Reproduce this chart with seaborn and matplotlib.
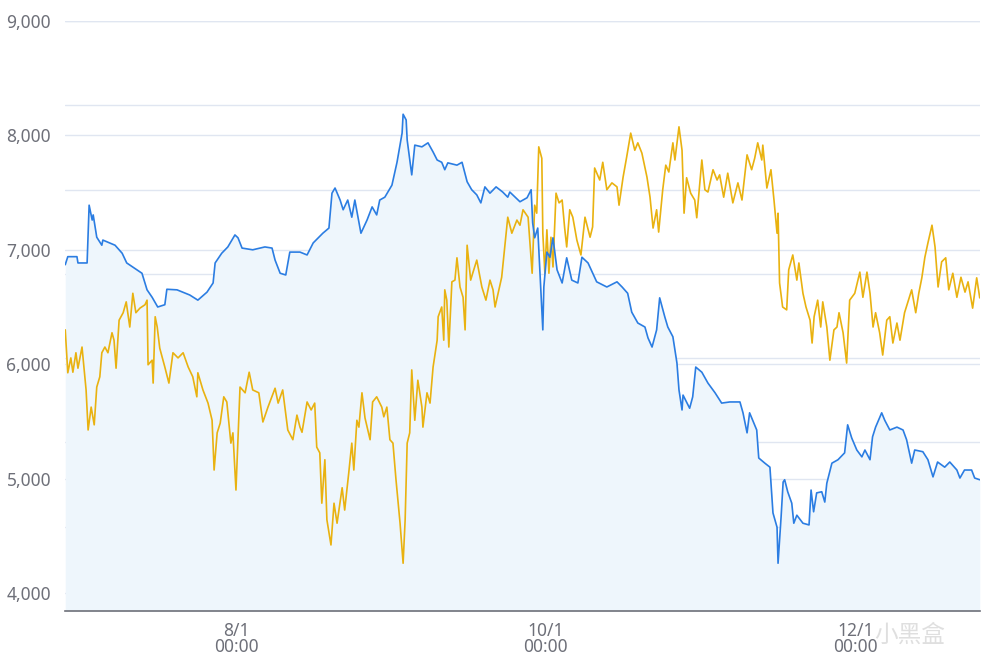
import numpy as np
import pandas as pd
import matplotlib
matplotlib.use("Agg")
import matplotlib.pyplot as plt
import matplotlib.ticker as mticker
import seaborn as sns

# ---- data (days relative to 8/1 00:00, price) ----
start = pd.Timestamp("2023-08-01")

blue_day = [-33.6,-33.1,-31.3,-31.1,-29.3,-28.9,-28.3,-28.1,-27.4,-26.4,
            -26.2,-23.8,-22.4,-21.5,-19.5,-18.5,-17.5,-16.5,-15.4,-14.0,
            -13.6,-11.6,-9.1,-7.5,-5.7,-4.5,-4.1,-2.8,-1.6,-0.2,
            0.4,1.2,3.3,5.7,7.1,7.7,8.7,9.8,10.6,12.6,
            14.0,15.2,17.1,18.3,18.9,19.5,20.5,21.1,22.0,22.8,
            23.4,24.6,25.8,26.8,27.7,28.3,29.3,30.7,31.7,32.7,
            32.9,33.5,33.7,34.6,35.2,36.6,37.8,38.8,39.6,40.5,
            41.1,41.7,43.5,44.5,45.5,46.4,47.4,48.2,49.0,50.0,
            51.2,52.5,53.5,53.9,55.9,57.3,58.1,58.4,58.8,59.4,
            60.0,60.4,60.6,61.2,61.8,62.4,63.2,64.2,65.1,66.1,
            67.3,68.1,69.3,71.0,73.0,75.0,76.0,77.1,77.9,79.1,
            80.5,81.1,81.9,82.8,83.4,84.4,85.0,86.0,86.8,87.2,
            87.8,88.0,89.3,89.9,90.5,91.7,92.9,94.3,95.6,97.2,
            99.2,99.8,100.6,101.1,102.5,102.9,104.1,105.1,105.7,106.5,
            106.7,107.3,107.7,108.0,108.6,109.4,109.8,110.4,111.6,112.8,
            113.2,113.7,114.3,115.3,115.9,116.3,117.3,118.5,119.8,120.4,
            121.2,122.2,123.2,123.8,124.8,125.3,125.9,127.1,127.7,128.7,
            130.1,131.3,132.0,133.0,133.6,135.2,136.2,137.2,138.1,139.5,
            140.5,141.9,142.5,143.4,144.8,145.4,146.4]
blue_val = [6870,6940,6940,6885,6885,7390,7260,7305,7110,7040,
            7085,7040,6970,6885,6825,6795,6650,6585,6500,6520,
            6655,6650,6605,6560,6630,6710,6885,6970,7025,7130,
            7105,7015,7000,7025,7015,6910,6795,6780,6980,6980,
            6955,7060,7145,7190,7495,7540,7435,7350,7435,7285,
            7435,7145,7260,7375,7305,7435,7460,7565,7765,8020,
            8185,8135,7960,7655,7915,7900,7935,7855,7785,7765,
            7700,7760,7740,7765,7595,7525,7480,7410,7550,7495,
            7550,7505,7460,7505,7420,7455,7525,7235,7105,7190,
            6665,6300,6675,6980,6935,7105,6825,6710,6930,6735,
            6710,6935,6885,6720,6675,6720,6675,6620,6455,6360,
            6325,6230,6150,6300,6580,6415,6325,6240,6010,5775,
            5600,5730,5615,5715,5975,5930,5835,5750,5660,5670,
            5670,5575,5400,5575,5425,5180,5135,5100,4700,4575,
            4260,4665,4970,4990,4885,4785,4610,4680,4610,4595,
            4900,4710,4875,4885,4795,4960,5135,5165,5225,5470,
            5355,5250,5190,5250,5165,5365,5450,5575,5510,5425,
            5450,5425,5340,5135,5250,5235,5165,5015,5145,5100,
            5145,5075,5005,5075,5075,5005,4990]

yellow_day = [-33.6,-33.1,-32.5,-32.1,-31.5,-31.1,-30.3,-29.9,-29.5,-29.1,
              -28.5,-27.9,-27.4,-26.8,-26.4,-25.8,-25.2,-24.4,-24.0,-23.6,
              -23.0,-22.2,-21.6,-20.9,-20.3,-19.7,-18.9,-17.9,-17.5,-17.3,
              -16.5,-16.3,-15.9,-15.5,-15.0,-14.0,-13.2,-12.4,-11.4,-10.4,
              -9.4,-8.5,-7.7,-7.5,-6.5,-5.5,-4.7,-4.3,-3.7,-3.1,
              -2.4,-1.8,-1.0,-0.6,0.0,0.8,1.8,2.6,3.3,4.5,
              5.3,6.3,7.7,8.3,9.2,10.2,11.2,12.0,12.6,13.0,
              14.0,14.8,15.5,15.9,16.5,16.9,17.5,17.9,18.7,19.3,
              19.9,20.9,21.4,22.2,22.8,23.2,23.8,24.2,24.8,25.4,
              26.4,26.9,27.7,28.7,29.1,29.7,30.3,30.9,31.5,32.3,
              32.9,33.3,33.7,34.2,34.6,35.2,35.8,36.6,36.8,37.6,
              38.2,38.8,39.6,39.8,40.5,40.9,41.1,41.5,41.9,42.5,
              43.1,43.5,44.1,44.7,45.1,45.5,46.2,46.6,47.4,48.4,
              49.2,50.0,50.6,51.0,51.6,52.3,52.9,53.5,54.3,55.3,
              55.9,56.5,57.5,58.3,58.8,59.2,59.6,60.2,60.4,60.8,
              61.2,61.6,62.0,62.4,63.0,63.6,64.2,64.7,65.1,65.7,
              66.3,67.1,67.9,68.7,69.7,70.2,70.6,71.6,72.2,73.0,
              74.0,75.0,75.4,76.2,76.9,77.7,78.5,79.1,79.9,80.9,
              81.5,82.1,82.8,83.2,84.0,84.6,85.2,86.0,86.4,87.2,
              87.8,88.2,88.7,89.5,90.3,90.7,91.7,92.3,92.9,93.9,
              94.7,95.2,96.0,96.8,97.8,98.8,99.6,100.6,101.5,102.1,
              102.7,103.5,103.7,104.5,105.3,105.9,106.5,106.7,107.0,107.6,
              108.4,108.8,109.6,110.4,110.8,111.6,112.2,113.0,113.4,113.8,
              114.5,115.1,115.5,116.3,116.9,117.7,118.3,118.7,119.5,120.2,
              120.8,121.8,122.8,123.4,124.2,124.8,125.4,125.9,126.7,127.3,
              128.1,128.7,129.3,130.1,130.7,131.6,132.2,133.0,133.8,134.4,
              135.0,135.6,136.2,137.0,137.6,138.2,138.9,139.7,140.3,141.1,
              141.9,142.7,143.5,144.1,145.0,145.8,146.4]
yellow_val = [6300,5925,6055,5930,6100,5965,6150,5965,5775,5425,
              5625,5470,5800,5890,6100,6150,6100,6275,6210,5965,
              6385,6450,6545,6325,6620,6450,6490,6520,6560,5995,
              6035,5835,6415,6325,6140,5975,5835,6100,6055,6100,
              5975,5890,5715,5925,5775,5660,5510,5075,5400,5485,
              5715,5670,5310,5400,4900,5800,5750,5930,5775,5750,
              5495,5625,5790,5660,5775,5425,5340,5555,5450,5405,
              5670,5600,5660,5275,5225,4785,5165,4640,4420,4785,
              4610,4920,4725,5050,5310,5075,5510,5450,5750,5530,
              5340,5670,5715,5625,5540,5625,5340,5310,4990,4610,
              4260,4640,5310,5400,5950,5510,5860,5625,5450,5750,
              5660,5975,6210,6415,6500,6210,6650,6560,6150,6720,
              6735,6930,6675,6585,6300,7040,6735,6795,6910,6675,
              6560,6735,6650,6500,6620,6760,7025,7285,7145,7260,
              7215,7350,7285,6795,7390,7320,7900,7800,7145,6795,
              7175,6795,7110,6850,7495,7410,7435,7190,7025,7350,
              7285,7085,6955,7285,7110,7200,7715,7610,7765,7525,
              7585,7550,7390,7635,7810,8020,7870,7935,7845,7635,
              7460,7190,7350,7155,7525,7740,7680,7935,7785,8075,
              7870,7320,7630,7495,7435,7280,7785,7525,7505,7700,
              7610,7655,7460,7670,7410,7585,7435,7830,7700,7800,
              7935,7785,7915,7540,7700,7435,7145,7320,6710,6500,
              6475,6825,6955,6735,6885,6620,6500,6385,6185,6415,
              6560,6325,6545,6325,6035,6300,6325,6450,6275,6010,
              6560,6620,6805,6585,6805,6620,6325,6450,6275,6080,
              6385,6415,6185,6360,6210,6450,6535,6650,6450,6620,
              6755,6935,7060,7215,7025,6675,6895,6930,6650,6795,
              6585,6760,6630,6720,6490,6755,6580]

tick_dates = ["2023-08-01", "2023-10-01", "2023-12-01"]
tick_labels = ["8/1\n00:00", "10/1\n00:00", "12/1\n00:00"]
y_ticks = [4000, 5000, 6000, 7000, 8000, 9000]

blue_df = pd.DataFrame({"time": start + pd.to_timedelta(blue_day, unit="D"), "price": blue_val})
yellow_df = pd.DataFrame({"time": start + pd.to_timedelta(yellow_day, unit="D"), "price": yellow_val})

# ---- style ----
sns.set_style("white")
plt.rcParams["font.family"] = ["Noto Sans", "Noto Sans CJK SC", "DejaVu Sans"]

BLUE = "#2b7de2"
YELLOW = "#e9b210"
FILL = "#eef6fc"
GRID = "#e0e6f1"
TEXT = "#6e7079"

fig = plt.figure(figsize=(9.82, 6.67), dpi=100)
ax = fig.add_axes([65/982, (667-611)/667, (980-65)/982, (611-21)/667])

ymin, ymax = 3842.7, 9000
xmin = start + pd.Timedelta(days=-33.65)
xmax = start + pd.Timedelta(days=146.45)

# secondary grid (unlabelled split lines)
ax2 = ax.twinx()
ax2.set_ylim(0, 7)
ax2.set_yticks(range(8))
ax2.tick_params(axis="y", length=0, labelright=False)
ax2.grid(True, axis="y", color=GRID, linewidth=1.0)
ax2.set_zorder(0)
for s in ax2.spines.values():
    s.set_visible(False)

ax.set_zorder(1)
ax.patch.set_visible(False)

ax.fill_between(blue_df["time"], blue_df["price"], ymin, color=FILL, linewidth=0, zorder=1)
sns.lineplot(data=yellow_df, x="time", y="price", ax=ax, color=YELLOW, linewidth=1.2,
             estimator=None, sort=False, zorder=3)
sns.lineplot(data=blue_df, x="time", y="price", ax=ax, color=BLUE, linewidth=1.2,
             estimator=None, sort=False, zorder=4)

ax.set_xlim(xmin, xmax)
ax.set_ylim(ymin, ymax)
ax.set_yticks(y_ticks)
ax.yaxis.set_major_formatter(mticker.StrMethodFormatter("{x:,.0f}"))
ax.set_xticks(pd.to_datetime(tick_dates))
ax.set_xticklabels(tick_labels, linespacing=0.85)
ax.grid(True, axis="y", color=GRID, linewidth=1.0, zorder=0)
ax.set_axisbelow(True)
ax.tick_params(axis="y", length=0, pad=10, labelsize=12.5, labelcolor=TEXT)
ax.tick_params(axis="x", length=0, pad=8, labelsize=12.5, labelcolor=TEXT)
ax.set_xlabel("")
ax.set_ylabel("")
for side in ["left", "right", "top"]:
    ax.spines[side].set_visible(False)
ax.spines["bottom"].set_color("#6e7079")
ax.spines["bottom"].set_linewidth(1.2)

# watermark
fig.text(0.962, 0.047, "小黑盒", ha="right", va="center", fontsize=17,
         color="#d2d2d2", alpha=0.7, family=["Noto Sans CJK SC", "DejaVu Sans"])

fig.savefig("out.png", dpi=100)
